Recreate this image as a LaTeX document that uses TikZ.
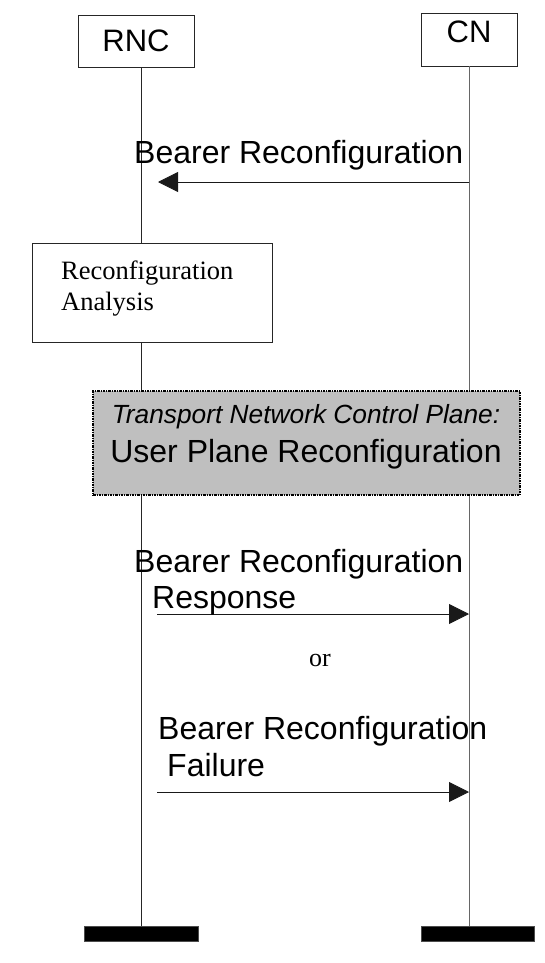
\documentclass[tikz,border=0pt]{standalone}
\usepackage{fontspec}
\setmainfont{Liberation Serif}
\setsansfont{Liberation Sans}
\usetikzlibrary{arrows.meta}
\begin{document}
\begin{tikzpicture}[x=1pt,y=-1pt,
  entity/.style={draw=black!85, line width=0.8pt, fill=white, inner sep=0pt, font=\sffamily\fontsize{31}{37}\selectfont},
  lifeline/.style={line width=0.8pt, draw=black!85},
  msg/.style={line width=0.8pt, draw=black!90, -{Triangle[length=20pt,width=20pt]}},
  lbl/.style={inner sep=0pt, anchor=base west, font=\sffamily\fontsize{32}{36.5}\selectfont},
  procbox/.style={draw=black!85, line width=0.8pt, fill=white, inner sep=0pt},
  tnbox/.style={draw=black, line width=1.4pt, dash pattern=on 2.5pt off 1pt on 1pt off 1pt, fill=black!25, inner sep=0pt},
  endbar/.style={fill=black, draw=black!70, line width=0.6pt, inner sep=0pt, minimum height=15pt}
]
\useasboundingbox (0,0) rectangle (544,963);

% entities
\node[entity, minimum width=116pt, minimum height=52pt] (rnc) at (136,41) {RNC};
\node[entity, minimum width=96pt, minimum height=53pt, text depth=15pt] (cn) at (469,39.5) {CN};

% end bars
\node[endbar, minimum width=114pt] (rncbar) at (141,933.5) {};
\node[endbar, minimum width=113pt] (cnbar) at (477.5,933.5) {};

% lifelines
\draw[lifeline] (rncbar.north |- rnc.south) -- (rncbar.north);
\draw[lifeline, draw=black!60] (cn.south) -- (cn.south |- cnbar.north);

% message 1
\coordinate (m1from) at (cn.south |- 0,182);
\coordinate (m1to) at (158,182);
\draw[msg] (m1from) -- (m1to);
\node[lbl] (m1lbl) at (134,163) {Bearer Reconfiguration};

% reconfiguration analysis
\node[procbox, anchor=north west, minimum width=240pt, minimum height=99pt] (ra) at (32,243) {};
\node[inner sep=0pt, anchor=base west, font=\rmfamily\fontsize{26.5}{31}\selectfont] (ratext) at (61,279)
  {\begin{tabular}[t]{@{}l@{}}Reconfiguration\\Analysis\end{tabular}};

% transport network control plane
\node[tnbox, minimum width=427pt, minimum height=104pt] (tn) at (306.5,443) {};
\node[inner sep=0pt, anchor=base, font=\sffamily\fontsize{32}{39}\selectfont] (tntext) at (306,423)
  {\begin{tabular}[t]{@{}c@{}}{\itshape\fontsize{26.3}{39}\selectfont Transport Network Control Plane:}\\User Plane Reconfiguration\end{tabular}};

% message 2
\coordinate (m2from) at (157,614);
\coordinate (m2to) at (cn.south |- 0,614);
\draw[msg] (m2from) -- (m2to);
\node[lbl] (m2lbl) at (134,572)
  {\begin{tabular}[t]{@{}l@{}}Bearer Reconfiguration\\\hspace*{18pt}Response\end{tabular}};

% or
\node[inner sep=0pt, anchor=base, font=\rmfamily\fontsize{26}{30}\selectfont] (ortext) at (320,666) {or};

% message 3
\coordinate (m3from) at (157,792);
\coordinate (m3to) at (cn.south |- 0,792);
\draw[msg] (m3from) -- (m3to);
\node[lbl, font=\sffamily\fontsize{32}{37}\selectfont] (m3lbl) at (158,739)
  {\begin{tabular}[t]{@{}l@{}}Bearer Reconfiguration\\\hspace*{9pt}Failure\end{tabular}};

\end{tikzpicture}
\end{document}
